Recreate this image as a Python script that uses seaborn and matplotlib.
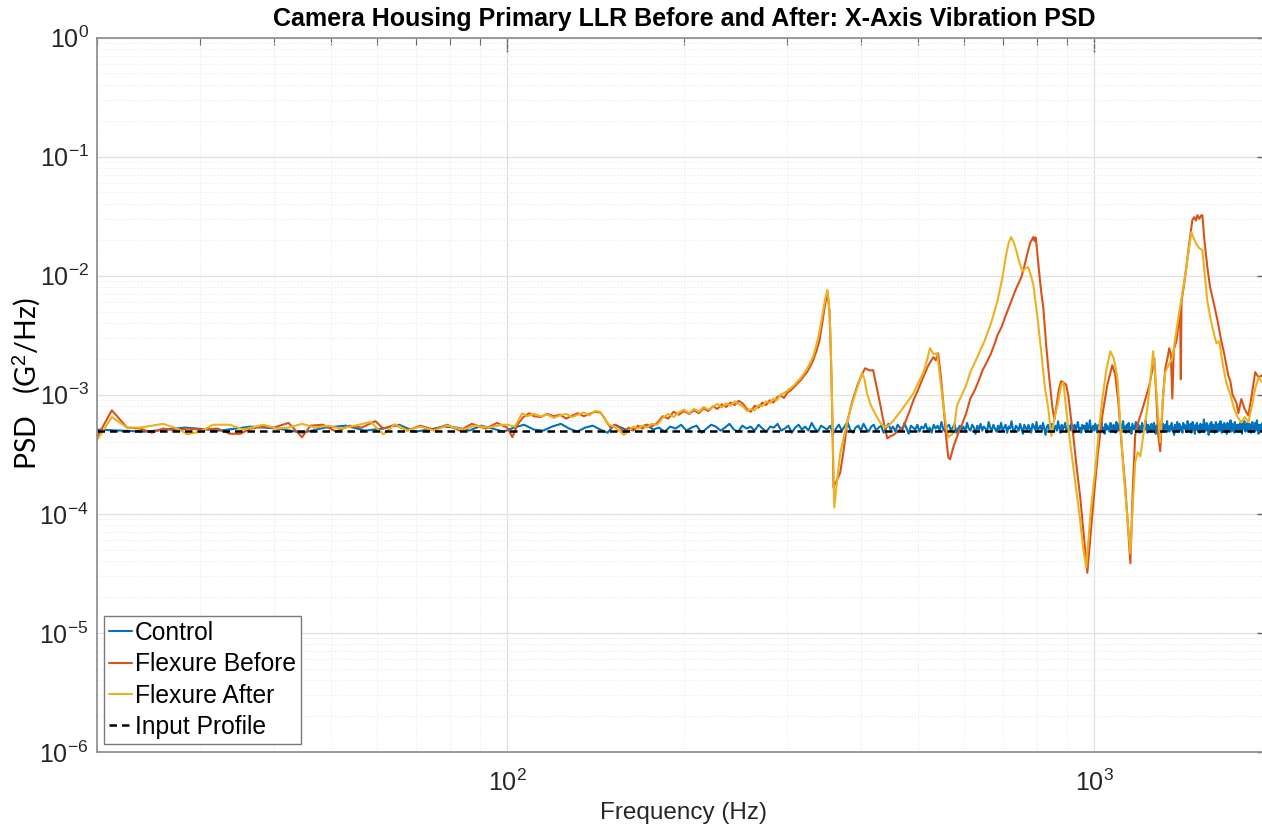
import numpy as np
import matplotlib
matplotlib.use("Agg")
import matplotlib.pyplot as plt
import seaborn as sns
from matplotlib.ticker import LogLocator, LogFormatterSciNotation, NullFormatter, FixedLocator

# ---------------------------------------------------------------- data
# PSD values are given in units of 1e-4 G^2/Hz
control_psd_e4 = [
    5.1, 4.9, 5.3, 5.0, 5.4, 5.2, 4.8, 5.3, 5.5, 5.0, 5.2, 5.6, 4.9, 5.1, 5.4, 5.3, 5.0, 5.5, 5.2, 4.9,
    5.3, 5.6, 5.1, 5.0, 5.4, 5.7, 5.2, 4.9, 5.3, 5.5, 5.1, 4.8, 5.6, 5.3, 5.0, 5.2, 5.4, 5.6, 5.1, 5.3,
    4.9, 5.4, 5.2, 5.6, 5.0, 5.3, 5.5, 4.8, 5.2, 5.6, 5.4, 5.0, 5.3, 5.7, 5.1, 4.9, 5.5, 5.2, 5.4, 5.0,
    5.6, 5.2, 4.9, 5.4, 5.3, 5.7, 5.0, 5.2, 5.5, 4.8, 5.3, 5.6, 5.1, 5.4, 5.0, 5.8, 5.2, 4.9, 5.5, 5.3,
    5.1, 5.5, 4.7, 5.2, 5.6, 5.0, 5.4, 5.9, 5.1, 4.8, 5.3, 5.5, 5.0, 5.7, 5.2, 4.9, 5.4, 5.6, 5.0, 5.3,
    5.5, 4.8, 5.2, 5.7, 5.1, 5.4, 4.9, 5.6, 5.3, 5.0, 5.8, 5.2, 4.7, 5.5, 5.3, 5.1, 5.6, 4.9, 5.4, 5.2,
    5.7, 5.0, 5.3, 4.8, 5.6, 5.2, 5.5, 5.0, 5.9, 5.1, 4.9, 5.4, 5.6, 5.0, 5.3, 5.7, 4.8, 5.2, 5.5, 5.1,
    5.4, 4.9, 5.8, 5.2, 5.0, 5.6, 5.3, 4.7, 5.5, 5.1, 5.7, 5.0, 5.4, 5.2, 4.8, 5.9, 5.3, 5.0, 5.6, 5.2,
    4.9, 5.5, 5.1, 5.8, 5.0, 5.3, 5.6, 4.8, 5.4, 5.2, 6.0, 5.1, 4.9, 5.5, 5.3, 5.0, 5.7, 5.2, 4.7, 5.6,
    5.3, 5.0, 5.6, 5.2, 4.8, 5.7, 5.4, 5.1, 5.9, 4.9, 5.3, 5.5, 5.0, 5.8, 5.2, 4.6, 5.4, 5.6, 5.1, 5.3,
    5.7, 4.9, 5.2, 5.5, 5.0, 6.0, 5.3, 4.8, 5.6, 5.1, 5.4, 5.8, 4.9, 5.2, 5.5, 5.0, 5.7, 5.3, 4.7, 5.6,
    5.1, 5.4, 5.9, 5.0, 5.3, 4.8, 5.6, 5.2, 5.5, 4.9, 5.8, 5.1, 5.3, 6.1, 4.9, 5.2, 5.5, 5.0, 5.7, 5.3,
    4.8, 5.6, 5.2, 5.4, 5.9, 5.0, 5.3, 4.7, 5.7, 5.1, 5.5, 5.2, 4.9, 5.8, 5.3, 5.0, 5.6, 5.4, 4.8, 5.9,
    5.2, 5.0, 5.7, 5.3, 4.9, 5.5, 6.0, 5.1, 5.4, 4.8, 5.6, 5.2, 5.8, 5.0, 5.3, 4.7, 5.7, 5.4, 5.1, 5.5,
    5.9, 5.0, 5.3, 5.6, 4.8, 5.4, 5.2, 5.8, 4.9, 5.5, 5.1, 6.1, 5.3, 4.8, 5.6, 5.2, 5.4, 4.9, 5.7, 5.0,
    5.3, 5.8, 5.1, 4.7, 5.5, 5.2, 5.9, 5.0, 5.4, 5.6, 4.8, 5.3, 5.7, 5.1, 4.9, 5.6, 5.2, 6.0, 5.0, 5.4,
    4.9, 5.5, 5.2, 5.8, 5.0, 5.3, 4.6, 5.6, 5.4, 5.1, 5.9, 4.9, 5.3, 5.7, 5.0, 5.4, 5.2, 4.8, 5.8, 5.3,
    5.6, 5.1, 5.4, 4.9, 6.0, 5.2, 5.5, 5.0, 5.7, 4.8, 5.3, 5.9, 5.1, 5.4, 4.7, 5.6, 5.2, 5.8, 5.0, 5.5,
    5.2, 4.8, 5.7, 5.3, 5.0, 5.6, 5.1, 6.2, 4.9, 5.4, 5.2, 5.8, 5.0, 5.5, 4.6, 5.3, 5.7, 5.1, 5.9, 5.2,
    5.0, 5.6, 5.3, 4.8, 5.5, 5.9, 5.1, 5.4, 4.9, 5.7, 5.2, 5.0, 6.0, 5.3, 4.8, 5.6, 5.4, 5.1, 5.8, 4.9,
    5.5, 5.2, 4.7, 5.8, 5.3, 5.0, 5.6, 5.2, 6.1, 4.9, 5.4, 5.7, 5.0, 5.3, 4.8, 5.9, 5.2, 5.5, 5.0, 5.6,
    5.3, 4.9, 5.6, 5.1, 5.8, 5.0, 5.4, 4.7, 5.7, 5.2, 5.5, 6.0, 5.1, 4.9, 5.6, 5.3, 5.8, 5.0, 5.4, 5.2,
    5.7, 5.1, 5.3, 4.8, 5.6, 5.9, 5.2, 5.0, 5.5, 4.9, 5.8, 5.3, 5.1, 6.1, 5.0, 5.4, 4.7, 5.6, 5.3, 5.5,
    5.0, 5.6, 5.2, 5.8, 4.9, 5.4, 5.1, 5.7, 5.3, 4.8, 5.9, 5.2, 5.5, 5.0, 5.6, 5.3, 4.9, 5.7, 5.4, 5.2,
]
# control run sampled on a uniform frequency grid from 20 Hz to 2 kHz
control_freq = np.linspace(20, 2000, len(control_psd_e4))

before_freq = [
    20.0, 21.2, 22.5, 23.7, 24.8, 25.9, 27.4, 28.5, 30.0, 32.1,
    33.7, 35.1, 36.5, 38.4, 40.0, 42.4, 44.7, 46.2, 48.5, 51.1,
    53.8, 56.5, 59.6, 61.5, 64.4, 67.6, 71.0, 75.0, 79.0, 83.0,
    87.0, 92.0, 96.0, 100, 102, 104, 106.5, 109, 111, 114,
    117, 120, 123, 126, 129, 132, 135, 138, 141, 144,
    146, 148, 150, 153, 156, 158, 161, 164, 167, 170,
    173, 176, 180, 184, 188, 192, 196, 200, 204, 208,
    212, 216, 220, 224, 228, 232, 236, 240, 244, 248,
    252, 256, 260, 264, 268, 272, 276, 280, 284, 288,
    292, 296, 300, 304, 308, 312, 316, 320, 324, 328,
    332, 336, 340, 344, 348, 351, 354, 356, 358, 359.5,
    364, 369, 374, 380, 387, 395, 401, 407, 414, 420,
    426, 432, 438, 444, 450, 455, 464, 473, 482, 492,
    501, 511, 521, 532, 537, 542, 548, 553, 559, 564,
    568, 575, 585, 595, 605, 615, 625, 635, 645, 655,
    665, 675, 684, 695, 705, 715, 722, 732, 741, 751,
    760, 767, 772, 778, 783, 787, 791, 794, 797, 805,
    812, 819, 828, 838, 848, 855, 862, 870, 878, 886,
    895, 903, 912, 921, 932, 946, 960, 973, 985, 996,
    1014, 1032, 1052, 1073, 1085, 1099, 1114, 1129, 1142, 1152,
    1163, 1174, 1190, 1207, 1224, 1241, 1255, 1265, 1275, 1285,
    1295, 1310, 1321, 1332, 1342, 1350, 1358, 1366, 1380, 1392,
    1400, 1404, 1408, 1420, 1435, 1450, 1469, 1480, 1490, 1498,
    1510, 1520, 1528, 1540, 1558, 1575, 1595, 1620, 1646, 1665,
    1691, 1705, 1720, 1745, 1760, 1780, 1805, 1830, 1855, 1880,
    1905, 1932, 1965, 2000,
]
before_psd_e4 = [
    4.4, 7.4, 5.3, 5.2, 4.8, 5.2, 5.0, 5.2, 5.1, 5.2,
    4.7, 4.7, 5.2, 5.4, 5.3, 5.8, 4.4, 5.5, 5.6, 4.9,
    5.5, 5.3, 6.0, 5.2, 5.6, 5.0, 5.5, 5.1, 5.6, 5.0,
    5.7, 5.2, 5.8, 5.3, 4.4, 5.6, 6.5, 7.0, 6.6, 6.5,
    6.9, 6.6, 6.8, 6.3, 6.7, 7.0, 6.6, 6.9, 7.2, 7.1,
    6.5, 5.8, 5.3, 5.6, 5.2, 4.8, 5.3, 5.0, 5.5, 5.2,
    5.6, 5.4, 5.8, 6.6, 6.3, 7.2, 6.8, 7.3, 6.9, 7.4,
    7.0, 7.7, 7.3, 8.0, 7.6, 8.3, 7.9, 8.6, 8.2, 8.9,
    8.4, 7.6, 7.2, 8.1, 7.8, 8.6, 8.2, 9.0, 8.6, 9.5,
    9.9, 9.4, 10.4, 10.9, 11.6, 12.4, 13.2, 14.3, 15.5, 17.2,
    19.5, 23, 28, 40, 58, 73, 50, 20, 6.0, 1.67,
    1.9, 2.2, 3.4, 6.1, 8.8, 12, 14.5, 16.7, 16.0, 16.1,
    11.5, 8.2, 5.8, 4.3, 4.5, 4.6, 5.0, 5.4, 6.8, 9.0,
    11, 14, 17.5, 20.7, 19.5, 22.3, 14, 8.5, 4.5, 2.98,
    2.87, 3.6, 4.6, 5.6, 7.0, 9.3, 10.8, 13, 16, 18.5,
    21.5, 26, 31.6, 37, 45, 54, 61, 73, 84, 97,
    120, 145, 164, 190, 200, 211, 195, 210, 184, 110,
    73, 53, 26, 13.8, 8.0, 6.2, 8.0, 11, 13, 12.7,
    12.2, 9.9, 6.5, 4.5, 2.6, 1.40, 0.65, 0.32, 0.65, 1.23,
    3.2, 6.7, 12, 17.7, 15, 8.65, 3.6, 1.70, 0.75, 0.384,
    1.6, 4.6, 6.0, 7.5, 9.5, 12, 16, 20.3, 10, 4.6,
    3.35, 10, 16.7, 20, 24.6, 22, 9.3, 24, 28.2, 40,
    52, 13.5, 61, 80, 118, 180, 293, 310, 290, 322,
    300, 320, 322, 200, 118, 80, 61, 43, 28.2, 22,
    14.6, 13, 10, 8.65, 7.0, 9.2, 7.5, 6.7, 10, 15.5,
    14, 14.6, 13.5, 14,
]

after_freq = [
    20.0, 21.2, 22.5, 23.7, 25.9, 27.4, 28.5, 30.0, 31.5, 33.7,
    35.5, 38.4, 40.5, 42.4, 44.7, 47.0, 49.5, 52.0, 55.0, 58.5,
    61.5, 64.4, 67.6, 71.0, 75.0, 79.0, 84.0, 88.0, 93.0, 98.0,
    100, 103, 106, 108, 111, 114, 117, 120, 123, 126,
    129, 132, 135, 138, 141, 144, 146, 149, 152, 155,
    158, 161, 164, 167, 170, 173, 176, 180, 184, 188,
    192, 196, 200, 204, 208, 212, 216, 220, 224, 228,
    232, 236, 240, 244, 248, 252, 256, 260, 264, 268,
    272, 276, 280, 284, 288, 292, 296, 300, 304, 308,
    312, 316, 320, 324, 328, 332, 336, 340, 344, 348,
    351, 353, 355, 357, 359, 360.6, 365, 369, 375, 380,
    387, 395, 402, 406, 410, 416, 423, 432, 440, 448,
    455, 464, 473, 482, 492, 501, 511, 518, 525, 532,
    540, 546, 553, 559, 564, 575, 584, 595, 605, 615,
    630, 650, 667, 684, 697, 708, 715, 722, 729, 736,
    745, 754, 763, 772, 780, 787, 800, 812, 823, 835,
    845, 856, 868, 878, 886, 900, 914, 930, 946, 958,
    969, 985, 1004, 1018, 1032, 1048, 1065, 1080, 1095, 1108,
    1121, 1137, 1152, 1163, 1174, 1186, 1198, 1215, 1231, 1245,
    1260, 1270, 1280, 1295, 1308, 1321, 1340, 1358, 1378, 1396,
    1415, 1435, 1450, 1463, 1475, 1492, 1510, 1528, 1543, 1558,
    1580, 1601, 1615, 1633, 1655, 1678, 1705, 1732, 1755, 1780,
    1805, 1830, 1855, 1880, 1905, 1932, 1965, 2000,
]
after_psd_e4 = [
    4.15, 6.5, 5.3, 5.3, 5.7, 5.2, 4.66, 4.9, 5.6, 5.6,
    5.1, 5.6, 5.2, 5.3, 5.7, 5.3, 5.5, 5.2, 5.5, 5.9,
    4.66, 5.65, 5.0, 5.4, 5.0, 5.5, 5.1, 5.5, 5.3, 5.6,
    5.6, 5.4, 7.0, 6.6, 6.9, 6.6, 6.8, 6.4, 6.7, 6.9,
    6.5, 6.8, 7.1, 6.7, 7.3, 7.2, 6.4, 5.6, 5.4, 5.0,
    4.6, 5.0, 5.4, 5.2, 5.5, 5.3, 5.7, 5.6, 6.4, 6.9,
    6.5, 7.1, 7.5, 7.0, 7.6, 7.2, 7.9, 7.5, 7.9, 8.4,
    7.8, 8.5, 8.1, 8.8, 8.3, 8.0, 7.3, 7.6, 7.4, 8.2,
    8.0, 8.8, 8.5, 9.3, 9.0, 10.0, 10.3, 10.8, 11.4, 12.0,
    12.9, 13.8, 15.0, 16.5, 18.5, 21, 26, 33, 46, 64,
    76, 60, 35, 12, 3.0, 1.13, 2.0, 3.2, 4.6, 6.1,
    8.5, 11.6, 15.2, 13.5, 10.3, 8.2, 7.0, 5.8, 5.3, 5.6,
    6.1, 6.9, 7.85, 8.9, 10.3, 12.5, 15.2, 19, 24.6, 22,
    22.3, 14, 8.2, 5.6, 4.4, 4.75, 8.2, 10, 12, 15.5,
    20, 28.2, 40, 61, 95, 152, 190, 211, 190, 164,
    130, 109, 115, 118, 100, 85, 45, 23.2, 12, 7.6,
    4.5, 6.5, 8.65, 12, 12.7, 6.0, 3.3, 1.7, 0.88, 0.50,
    0.355, 1.0, 2.37, 5.0, 9.2, 16, 23.2, 20, 13.8, 5.5,
    2.37, 1.0, 0.466, 1.2, 2.71, 3.3, 3.04, 5.0, 7.55, 13,
    23.2, 14, 8.65, 4.0, 9.0, 15.5, 18, 20.3, 33, 50,
    75, 118, 170, 232, 210, 184, 170, 164, 100, 61,
    42, 31.6, 27, 28.2, 18, 12.7, 10, 7.55, 6.5, 5.87,
    6.5, 5.87, 8.0, 11.3, 14, 12.7, 13.5, 13,
]

input_freq = [20, 2000]
input_psd_e4 = [5.0, 5.0]

series = [
    ("Control", control_freq, control_psd_e4, "#0072BD", "-"),
    ("Flexure Before", before_freq, before_psd_e4, "#D95319", "-"),
    ("Flexure After", after_freq, after_psd_e4, "#EDB120", "-"),
    ("Input Profile", input_freq, input_psd_e4, "black", (0, (3, 2))),
]

# ---------------------------------------------------------------- style
sns.set_theme(style="white")
plt.rcParams["font.family"] = ["Liberation Sans", "DejaVu Sans"]
plt.rcParams["mathtext.fontset"] = "custom"
plt.rcParams["mathtext.rm"] = "Liberation Sans"
plt.rcParams["mathtext.it"] = "Liberation Sans:italic"
plt.rcParams["mathtext.bf"] = "Liberation Sans:bold"
plt.rcParams["axes.unicode_minus"] = False

W, H = 1262, 832
fig = plt.figure(figsize=(W / 100, H / 100), dpi=100)
ax_l, ax_r, ax_t, ax_b = 97, 1271, 37.5, 752
ax = fig.add_axes([ax_l / W, 1 - ax_b / H, (ax_r - ax_l) / W, (ax_b - ax_t) / H])

for name, f, p, color, ls in series:
    sns.lineplot(x=np.asarray(f, dtype=float), y=np.asarray(p) * 1e-4, ax=ax,
                 color=color, linestyle=ls, linewidth=1.5 if name != "Input Profile" else 1.8,
                 label=name, sort=False, estimator=None, errorbar=None)

ax.set_xscale("log")
ax.set_yscale("log")
ax.set_xlim(20, 2000)
ax.set_ylim(1e-6, 1)

ax.xaxis.set_major_locator(FixedLocator([1e2, 1e3]))
ax.xaxis.set_minor_locator(LogLocator(base=10, subs=np.arange(2, 10), numticks=20))
ax.yaxis.set_major_locator(FixedLocator([1e-6, 1e-5, 1e-4, 1e-3, 1e-2, 1e-1, 1e0]))
ax.yaxis.set_minor_locator(LogLocator(base=10, subs=np.arange(2, 10), numticks=20))
ax.xaxis.set_major_formatter(LogFormatterSciNotation())
ax.yaxis.set_major_formatter(LogFormatterSciNotation())
ax.xaxis.set_minor_formatter(NullFormatter())
ax.yaxis.set_minor_formatter(NullFormatter())

ax.grid(which="major", color="#e0e0e0", linewidth=0.9)
ax.grid(which="minor", color="#eeeeee", linewidth=0.8, linestyle=(0, (1.5, 1.5)))
ax.set_axisbelow(True)

ax.tick_params(which="both", direction="in", top=True, right=True,
               color="#666666", labelcolor="#262626", labelsize=18)
ax.tick_params(which="major", length=10, width=1.0)
ax.tick_params(axis="y", which="major", pad=6)
ax.tick_params(axis="x", which="major", pad=13)
ax.tick_params(which="minor", length=5, width=0.8)

for s in ax.spines.values():
    s.set_color("#8a8a8a")
    s.set_linewidth(1.2)

ax.set_title("Camera Housing Primary LLR Before and After: X-Axis Vibration PSD",
             fontsize=18, fontweight="bold", color="black", pad=8)
ax.set_xlabel("Frequency (Hz)", fontsize=17.5, color="#262626", labelpad=4)
ax.set_ylabel("")
fig.text(27 / W, 1 - 384 / H, "PSD   (G$^2$/Hz)", rotation=90, ha="center", va="center",
         fontsize=20.5, color="black", family=["Lato", "DejaVu Sans"])

leg = ax.legend(loc="lower left", bbox_to_anchor=(104 / W, 1 - 744 / H),
                bbox_transform=fig.transFigure, borderaxespad=0,
                fontsize=17.7, handlelength=0.95, handletextpad=0.12,
                borderpad=0.2, labelspacing=0.3, frameon=True, fancybox=False,
                framealpha=1, edgecolor="#7a7a7a", facecolor="white")
leg.get_frame().set_linewidth(1.0)
for txt in leg.get_texts():
    txt.set_color("black")

fig.savefig("out.png", dpi=100)
